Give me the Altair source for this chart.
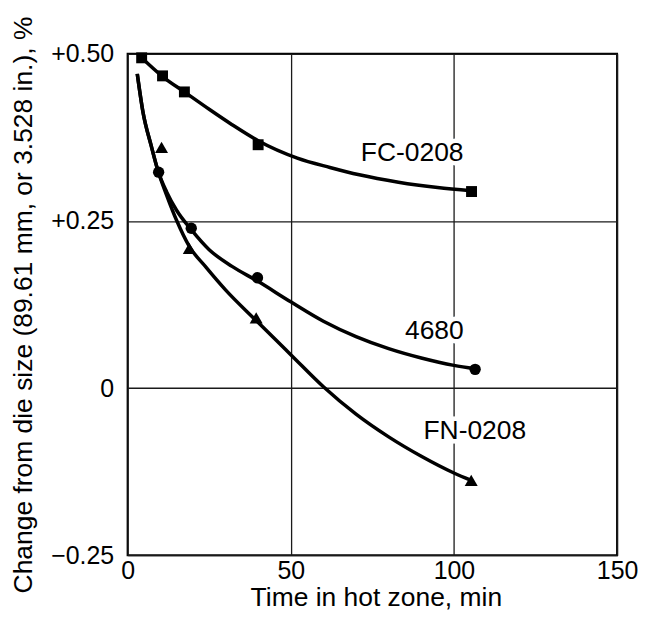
import altair as alt
import pandas as pd

FONT = "Liberation Sans, Arial, Helvetica, sans-serif"

# ---- measured points (time in min, change in %) ----
fc_pts_x = [4.3, 10.7, 17.4, 40.0, 105.4]
fc_pts_y = [0.494, 0.467, 0.443, 0.364, 0.294]

a4680_pts_x = [9.5, 19.5, 39.8, 106.5]
a4680_pts_y = [0.323, 0.239, 0.165, 0.028]

fn_pts_x = [10.4, 18.9, 39.4, 105.3]
fn_pts_y = [0.360, 0.209, 0.105, -0.138]

# ---- fitted curves ----
fc_curve_x = [4.3, 10.7, 17.4, 25, 32, 40, 52, 62, 71, 83, 95, 105.4]
fc_curve_y = [0.494, 0.466, 0.443, 0.417, 0.394, 0.370, 0.344, 0.330, 0.319, 0.308, 0.300, 0.295]

a4680_curve_x = [2.96, 4.7, 7.2, 9.3, 12, 15, 19.5, 25, 32, 39.8, 50, 60, 70, 80, 90, 100, 106.5]
a4680_curve_y = [0.470, 0.413, 0.363, 0.325, 0.293, 0.266, 0.237, 0.207, 0.182, 0.160, 0.129, 0.100, 0.077, 0.059, 0.045, 0.034, 0.029]

fn_curve_x = [2.96, 4.7, 7.2, 9.3, 12, 15, 18.9, 24, 30, 39.4, 45, 50, 60, 70, 80, 90, 100, 105.3]
fn_curve_y = [0.470, 0.413, 0.363, 0.325, 0.288, 0.251, 0.212, 0.181, 0.147, 0.101, 0.074, 0.050, 0.002, -0.039, -0.073, -0.102, -0.127, -0.138]

# ---- series labels ----
label_text = ["FC-0208", "4680", "FN-0208"]
label_x = [87.2, 94.0, 106.4]
label_y = [0.340, 0.0735, -0.0756]

x_ticks = [0, 50, 100, 150]
y_ticks = [-0.25, 0, 0.25, 0.5]

curve_rows = []
for name, xs, ys in [("FC-0208", fc_curve_x, fc_curve_y),
                     ("4680", a4680_curve_x, a4680_curve_y),
                     ("FN-0208", fn_curve_x, fn_curve_y)]:
    for i, (xv, yv) in enumerate(zip(xs, ys)):
        curve_rows.append({"series": name, "x": xv, "y": yv, "o": i})
curves = pd.DataFrame(curve_rows)

fc_df = pd.DataFrame({"x": fc_pts_x, "y": fc_pts_y})
a4680_df = pd.DataFrame({"x": a4680_pts_x, "y": a4680_pts_y})
fn_df = pd.DataFrame({"x": fn_pts_x, "y": fn_pts_y})
labels = pd.DataFrame({"t": label_text, "x": label_x, "y": label_y})

X = alt.X("x:Q", scale=alt.Scale(domain=[0, 150], nice=False, zero=False),
          axis=alt.Axis(values=x_ticks, title="Time in hot zone, min",
                        labelPadding=3, labelFlush=False,
                        titleX=249, titleY=50,
                        titleBaseline="alphabetic", format="d"))
Y = alt.Y("y:Q", scale=alt.Scale(domain=[-0.25, 0.5], nice=False, zero=False),
          axis=alt.Axis(values=y_ticks,
                        title="Change from die size (89.61 mm, or 3.528 in.), %",
                        labelPadding=14, labelFlush=False,
                        labelExpr="datum.value > 0 ? '+' + format(datum.value, '.2f') : (datum.value < 0 ? '\u2212' + format(-datum.value, '.2f') : '0')",
                        titleAngle=270, titleX=-96, titleY=251.5,
                        titleAlign="center", titleBaseline="alphabetic"))

base_curves = alt.Chart(curves).mark_line(
    color="black", strokeWidth=3.5, interpolate="monotone"
).encode(x=X, y=Y, detail="series:N", order="o:Q")

pts_fc = alt.Chart(fc_df).mark_point(shape="square", size=120, filled=True,
                                     color="black", opacity=1).encode(x=X, y=Y)
pts_4680 = alt.Chart(a4680_df).mark_point(shape="circle", size=130, filled=True,
                                          color="black", opacity=1).encode(x=X, y=Y)
pts_fn = alt.Chart(fn_df).mark_point(shape="triangle-up", size=170, filled=True,
                                     color="black", opacity=1).encode(x=X, y=Y)

halo = alt.Chart(labels).mark_text(
    font=FONT, fontSize=26.5, color="white", stroke="white", strokeWidth=9,
    align="center", baseline="alphabetic"
).encode(x=X, y=Y, text="t:N")
txt = alt.Chart(labels).mark_text(
    font=FONT, fontSize=26.5, color="black",
    align="center", baseline="alphabetic"
).encode(x=X, y=Y, text="t:N")

chart = alt.layer(halo, base_curves, pts_fc, pts_4680, pts_fn, txt).properties(
    width=491, height=503,
    autosize=alt.AutoSizeParams(type="none"),
    padding={"left": 120, "top": 45, "right": 22, "bottom": 56},
    background="white",
).configure_axis(
    labelFont=FONT, titleFont=FONT, labelFontSize=25, titleFontSize=26.5,
    labelColor="black", titleColor="black", titleFontWeight="normal",
    ticks=False, domain=False, grid=True, gridColor="#1a1a1a", gridWidth=1.3,
    gridOpacity=1,
).configure_view(stroke="black", strokeWidth=2)

chart.save("out.html", embed_options={"renderer": "svg", "actions": False})
